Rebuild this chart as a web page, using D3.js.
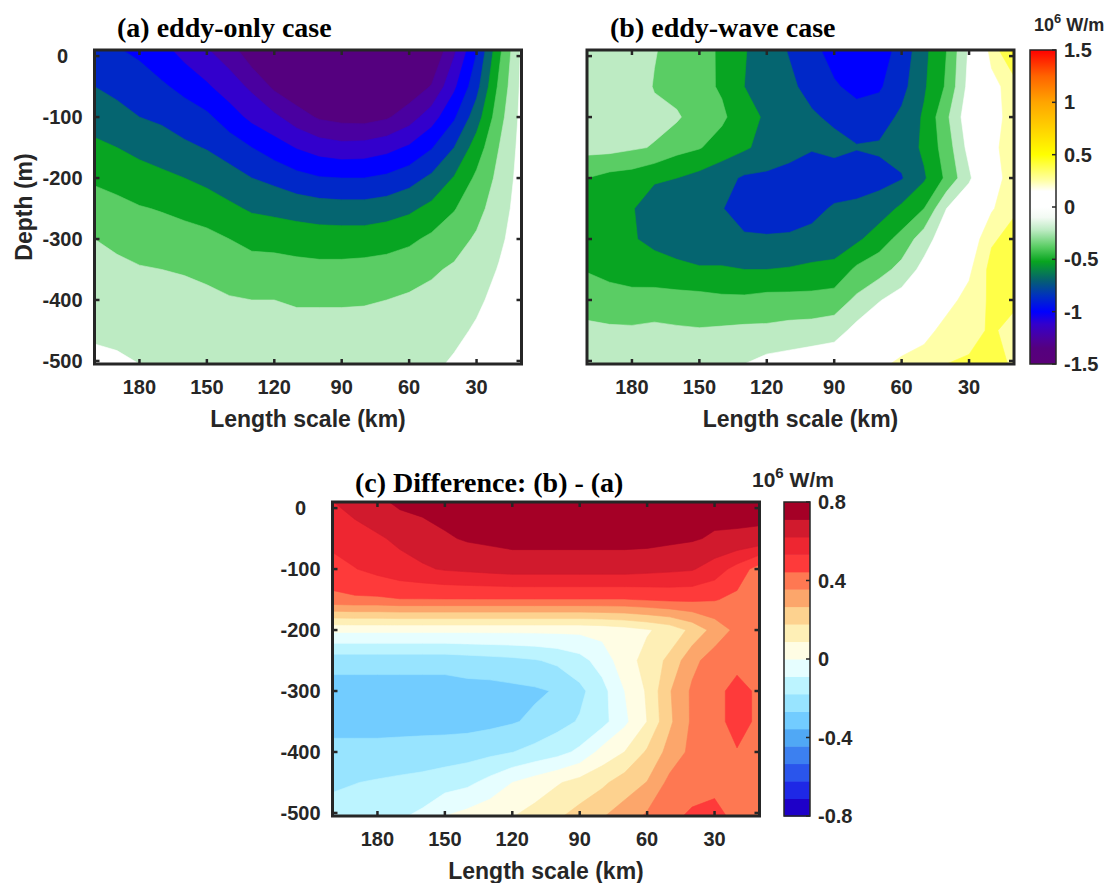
<!DOCTYPE html>
<html>
<head>
<meta charset="utf-8">
<script src="https://cdn.jsdelivr.net/npm/d3@7"></script>
<style>
  body { margin: 0; background: #fff; }
  svg text { font-family: "Liberation Sans", Arial, sans-serif; font-weight: bold; fill: #262626; }
  svg text.title { font-family: "Liberation Serif", "Times New Roman", serif; font-weight: bold; fill: #000; }
</style>
</head>
<body>
<svg id="fig" width="1107" height="883"></svg>
<script>
// Grid: length scale (km) along x, depth (m) along y
const lengthScale = [200, 190, 180, 170, 160, 150, 140, 130, 120, 110, 100, 90, 80, 70, 60, 50, 40, 30, 20, 10];
const depth = [10, -50, -100, -150, -200, -250, -300, -350, -400, -450, -505];

const xTicks = [180, 150, 120, 90, 60, 30];
const yTicks = [0, -100, -200, -300, -400, -500];

// Energy flux, 10^6 W/m, rows follow `depth`, columns follow `lengthScale`
const fluxEddyOnly = [
  [-0.85,-0.89,-0.93,-1.00,-1.11,-1.19,-1.28,-1.46,-1.52,-1.60,-1.62,-1.62,-1.60,-1.58,-1.55,-1.50,-1.23,-0.91,-0.49,-0.13],
  [-0.75,-0.79,-0.83,-0.88,-0.94,-1.03,-1.13,-1.23,-1.38,-1.47,-1.50,-1.50,-1.49,-1.47,-1.45,-1.34,-1.08,-0.80,-0.42,-0.12],
  [-0.66,-0.70,-0.75,-0.78,-0.83,-0.87,-0.98,-1.09,-1.17,-1.28,-1.37,-1.40,-1.41,-1.37,-1.27,-1.12,-0.92,-0.67,-0.36,-0.11],
  [-0.57,-0.60,-0.64,-0.67,-0.72,-0.76,-0.82,-0.90,-0.98,-1.06,-1.12,-1.15,-1.14,-1.10,-1.03,-0.91,-0.75,-0.53,-0.30,-0.10],
  [-0.47,-0.50,-0.54,-0.57,-0.60,-0.64,-0.69,-0.75,-0.79,-0.85,-0.89,-0.90,-0.90,-0.87,-0.81,-0.72,-0.59,-0.42,-0.26,-0.09],
  [-0.39,-0.41,-0.44,-0.46,-0.49,-0.52,-0.57,-0.62,-0.64,-0.66,-0.68,-0.69,-0.69,-0.67,-0.63,-0.56,-0.46,-0.35,-0.22,-0.08],
  [-0.30,-0.33,-0.36,-0.38,-0.39,-0.41,-0.45,-0.49,-0.50,-0.52,-0.53,-0.53,-0.53,-0.51,-0.48,-0.42,-0.36,-0.28,-0.18,-0.07],
  [-0.26,-0.27,-0.29,-0.30,-0.31,-0.33,-0.36,-0.39,-0.39,-0.40,-0.41,-0.41,-0.40,-0.39,-0.36,-0.32,-0.28,-0.23,-0.14,-0.06],
  [-0.21,-0.23,-0.24,-0.26,-0.26,-0.27,-0.29,-0.30,-0.30,-0.31,-0.31,-0.31,-0.31,-0.30,-0.28,-0.26,-0.23,-0.18,-0.10,-0.05],
  [-0.17,-0.18,-0.20,-0.22,-0.23,-0.23,-0.25,-0.26,-0.26,-0.27,-0.27,-0.27,-0.26,-0.25,-0.24,-0.22,-0.19,-0.13,-0.06,-0.03],
  [-0.12,-0.13,-0.15,-0.17,-0.18,-0.19,-0.20,-0.22,-0.22,-0.22,-0.22,-0.22,-0.21,-0.20,-0.19,-0.18,-0.13,-0.08,-0.03,-0.01]
];

const fluxEddyWave = [
  [-0.20,-0.20,-0.20,-0.29,-0.36,-0.38,-0.48,-0.59,-0.68,-0.76,-0.85,-0.97,-1.00,-0.97,-0.85,-0.64,-0.45,-0.13,0.20,0.50],
  [-0.20,-0.21,-0.21,-0.31,-0.36,-0.40,-0.47,-0.60,-0.70,-0.72,-0.80,-0.88,-0.95,-0.92,-0.80,-0.62,-0.43,-0.10,0.10,0.22],
  [-0.22,-0.22,-0.24,-0.26,-0.28,-0.38,-0.42,-0.55,-0.62,-0.68,-0.73,-0.78,-0.83,-0.82,-0.72,-0.58,-0.33,-0.05,0.10,0.20],
  [-0.25,-0.25,-0.28,-0.31,-0.40,-0.44,-0.52,-0.58,-0.65,-0.70,-0.74,-0.70,-0.74,-0.73,-0.70,-0.57,-0.38,-0.10,0.10,0.25],
  [-0.45,-0.50,-0.52,-0.58,-0.60,-0.65,-0.70,-0.77,-0.78,-0.80,-0.82,-0.85,-0.86,-0.80,-0.76,-0.62,-0.42,-0.18,0.10,0.20],
  [-0.56,-0.58,-0.59,-0.68,-0.70,-0.73,-0.74,-0.85,-0.86,-0.86,-0.80,-0.73,-0.70,-0.68,-0.57,-0.45,-0.15,0.00,0.13,0.28],
  [-0.56,-0.58,-0.59,-0.63,-0.70,-0.74,-0.74,-0.72,-0.73,-0.72,-0.70,-0.68,-0.63,-0.52,-0.40,-0.22,-0.05,0.03,0.28,0.35],
  [-0.46,-0.50,-0.52,-0.55,-0.55,-0.58,-0.58,-0.60,-0.60,-0.59,-0.57,-0.56,-0.42,-0.36,-0.25,-0.10,0.02,0.12,0.35,0.36],
  [-0.36,-0.38,-0.40,-0.38,-0.40,-0.40,-0.42,-0.42,-0.40,-0.40,-0.40,-0.38,-0.27,-0.16,-0.08,0.00,0.10,0.20,0.33,0.33],
  [-0.27,-0.28,-0.28,-0.27,-0.28,-0.29,-0.28,-0.27,-0.27,-0.25,-0.24,-0.22,-0.10,-0.02,0.05,0.10,0.20,0.25,0.32,0.25],
  [-0.22,-0.22,-0.22,-0.21,-0.22,-0.21,-0.20,-0.15,-0.10,-0.08,-0.05,-0.02,0.05,0.12,0.18,0.22,0.30,0.32,0.35,0.28]
];

const fluxDifference = [
  [0.62,0.66,0.69,0.73,0.74,0.75,0.76,0.77,0.77,0.77,0.77,0.77,0.77,0.77,0.77,0.77,0.76,0.75,0.74,0.75],
  [0.56,0.58,0.61,0.64,0.67,0.70,0.72,0.73,0.74,0.74,0.74,0.74,0.74,0.74,0.74,0.73,0.72,0.70,0.70,0.69],
  [0.50,0.53,0.56,0.59,0.61,0.63,0.64,0.65,0.66,0.66,0.66,0.66,0.66,0.66,0.65,0.64,0.63,0.58,0.50,0.40],
  [0.42,0.43,0.43,0.44,0.44,0.44,0.44,0.44,0.44,0.44,0.44,0.44,0.44,0.44,0.45,0.46,0.46,0.45,0.42,0.40],
  [0.02,0.02,0.02,0.02,0.02,0.02,0.02,0.02,0.02,0.02,0.02,0.02,0.03,0.05,0.08,0.12,0.20,0.30,0.38,0.42],
  [-0.23,-0.23,-0.23,-0.23,-0.23,-0.23,-0.22,-0.21,-0.20,-0.185,-0.16,-0.12,-0.05,0.05,0.12,0.20,0.33,0.40,0.42,0.42],
  [-0.31,-0.31,-0.31,-0.31,-0.31,-0.31,-0.30,-0.30,-0.29,-0.28,-0.26,-0.20,-0.12,0.00,0.10,0.26,0.37,0.42,0.47,0.43],
  [-0.30,-0.30,-0.30,-0.30,-0.30,-0.30,-0.30,-0.29,-0.275,-0.25,-0.21,-0.17,-0.12,-0.02,0.09,0.25,0.37,0.42,0.47,0.43],
  [-0.24,-0.24,-0.24,-0.235,-0.23,-0.225,-0.215,-0.20,-0.18,-0.15,-0.12,-0.07,0.03,0.09,0.19,0.30,0.38,0.41,0.44,0.42],
  [-0.19,-0.18,-0.17,-0.16,-0.15,-0.13,-0.11,-0.06,0.00,0.04,0.08,0.12,0.16,0.22,0.27,0.38,0.40,0.42,0.40,0.38],
  [-0.15,-0.14,-0.12,-0.10,-0.07,0.00,0.03,0.06,0.085,0.12,0.165,0.21,0.26,0.31,0.37,0.42,0.46,0.47,0.42,0.38]
];

// Filled-contour levels and band colours for panels (a) and (b)
const levelsAB = [-2, -1.35, -1.2, -1.05, -0.9, -0.75, -0.6, -0.45, -0.3, -0.15, 0.15, 0.3, 0.45, 0.6];
const colorsAB = ['#55007f', '#4a00a0', '#3300cc', '#0000ff', '#0028c8', '#056570', '#08a522', '#5acd64',
                  '#bdebc3', '#ffffff', '#ffffa8', '#ffff48', '#ffea10', '#ffd000'];
// Continuous colour bar for (a)/(b)
const colormapAB = [
  [-1.5, '#5a0078'], [-1.35, '#55007f'], [-1.25, '#4a00a0'], [-1.12, '#3300cc'], [-1.0, '#0000ff'],
  [-0.85, '#0030c0'], [-0.7, '#056070'], [-0.52, '#08a520'], [-0.38, '#5acd64'], [-0.22, '#bdebc3'],
  [-0.1, '#f2faf3'], [0, '#ffffff'], [0.15, '#ffffff'], [0.25, '#ffffa8'], [0.5, '#ffff00'],
  [0.75, '#ffd200'], [1.0, '#ffa500'], [1.25, '#ff6400'], [1.5, '#ff0000']
];
const cbTicksAB = [1.5, 1, 0.5, 0, -0.5, -1, -1.5];

// Filled-contour levels and colours for panel (c)
const levelsC = [-0.8, -0.711, -0.622, -0.533, -0.444, -0.356, -0.267, -0.178, -0.089,
                 0, 0.089, 0.178, 0.267, 0.356, 0.444, 0.533, 0.622, 0.711];
const colorsC = ['#1e00c8', '#1e28e6', '#2a55ec', '#3c80f0', '#50a8f5', '#72ccff', '#98e4ff', '#bcf4ff', '#e6feff',
                 '#fffde4', '#feefb6', '#fdd28f', '#fca66b', '#fe7852', '#fe3a3a', '#ee2631', '#d11a2d', '#a50026'];
const cbTicksC = [0.8, 0.4, 0, -0.4, -0.8];

const svg = d3.select('#fig');
const ink = '#262626';

// map a d3.contours grid coordinate back to data units (grid value i sits at i + 0.5)
function gridToData(coords) {
  const n = coords.length;
  return c => {
    const t = c - 0.5;
    if (t <= 0) return coords[0];
    if (t >= n - 1) return coords[n - 1];
    const i = Math.floor(t), f = t - i;
    return coords[i] + (coords[i + 1] - coords[i]) * f;
  };
}

function drawPanel(cfg) {
  const x = d3.scaleLinear().domain([lengthScale[0], lengthScale[lengthScale.length - 1]]).range([cfg.left, cfg.right]);
  const y = d3.scaleLinear().domain([depth[0], depth[depth.length - 1]]).range([cfg.top, cfg.bottom]);
  const gx = gridToData(lengthScale), gy = gridToData(depth);
  const proj = d3.geoTransform({ point(px, py) { this.stream.point(x(gx(px)), y(gy(py))); } });
  const path = d3.geoPath(proj);

  const g = svg.append('g');
  const clipId = 'clip-' + cfg.id;
  g.append('clipPath').attr('id', clipId).append('rect')
    .attr('x', cfg.left).attr('y', cfg.top)
    .attr('width', cfg.right - cfg.left).attr('height', cfg.bottom - cfg.top);

  const bands = d3.contours()
    .size([lengthScale.length, depth.length])
    .thresholds(cfg.levels)(cfg.values.flat());

  g.append('g').attr('clip-path', `url(#${clipId})`)
    .selectAll('path').data(bands).join('path')
    .attr('d', path)
    .attr('fill', (d, i) => cfg.colors[i])
    .attr('stroke', (d, i) => cfg.colors[i])
    .attr('stroke-width', 0.6);

  // inward ticks on all four sides
  const tl = 5;
  const ticks = g.append('g').attr('stroke', ink).attr('stroke-width', 2.5);
  xTicks.forEach(v => {
    ticks.append('line').attr('x1', x(v)).attr('x2', x(v)).attr('y1', cfg.bottom).attr('y2', cfg.bottom - tl);
    ticks.append('line').attr('x1', x(v)).attr('x2', x(v)).attr('y1', cfg.top).attr('y2', cfg.top + tl);
  });
  yTicks.forEach(v => {
    ticks.append('line').attr('x1', cfg.left).attr('x2', cfg.left + tl).attr('y1', y(v)).attr('y2', y(v));
    ticks.append('line').attr('x1', cfg.right).attr('x2', cfg.right - tl).attr('y1', y(v)).attr('y2', y(v));
  });

  g.append('rect')
    .attr('x', cfg.left).attr('y', cfg.top)
    .attr('width', cfg.right - cfg.left).attr('height', cfg.bottom - cfg.top)
    .attr('fill', 'none').attr('stroke', ink).attr('stroke-width', 3);

  // tick labels
  xTicks.forEach(v => {
    g.append('text').attr('x', x(v)).attr('y', cfg.bottom + 30)
      .attr('text-anchor', 'middle').style('font-size', '20px').text(String(v));
  });
  if (cfg.yLabels) {
    yTicks.forEach(v => {
      g.append('text').attr('x', cfg.left - 32).attr('y', y(v) + 7)
        .attr('text-anchor', 'middle').style('font-size', '20px').text(String(v));
    });
  }
  g.append('text').attr('x', (cfg.left + cfg.right) / 2).attr('y', cfg.bottom + 63)
    .attr('text-anchor', 'middle').style('font-size', '23px').text('Length scale (km)');
  if (cfg.yTitle) {
    g.append('text')
      .attr('transform', `translate(${cfg.left - 63},${(cfg.top + cfg.bottom) / 2}) rotate(-90)`)
      .attr('text-anchor', 'middle').style('font-size', '23px').text(cfg.yTitle);
  }
  g.append('text').attr('class', 'title').attr('x', cfg.titleX).attr('y', cfg.titleY)
    .style('font-size', '28px').text(cfg.title);
}

function unitLabel(x, y, size) {
  const t = svg.append('text').attr('x', x).attr('y', y).style('font-size', size + 'px');
  t.append('tspan').text('10');
  t.append('tspan').attr('dy', -size * 0.42).style('font-size', (size * 0.72) + 'px').text('6');
  t.append('tspan').attr('dy', size * 0.42).text(' W/m');
}

function colorbarTicks(scale, cb, ticks) {
  const g = svg.append('g');
  ticks.forEach(v => {
    g.append('line').attr('x1', cb.right).attr('x2', cb.right - 4)
      .attr('y1', scale(v)).attr('y2', scale(v)).attr('stroke', ink).attr('stroke-width', 1.5);
    g.append('text').attr('x', cb.right + 8).attr('y', scale(v) + 7)
      .style('font-size', '20px').text(String(v));
  });
  g.append('rect').attr('x', cb.left).attr('y', cb.top)
    .attr('width', cb.right - cb.left).attr('height', cb.bottom - cb.top)
    .attr('fill', 'none').attr('stroke', ink).attr('stroke-width', 1.5);
}

// panels
drawPanel({ id: 'a', left: 94.5, right: 521.5, top: 50, bottom: 364, values: fluxEddyOnly,
  levels: levelsAB, colors: colorsAB, yLabels: true, yTitle: 'Depth (m)',
  title: '(a) eddy-only case', titleX: 117, titleY: 37 });
drawPanel({ id: 'b', left: 587, right: 1014, top: 50, bottom: 364, values: fluxEddyWave,
  levels: levelsAB, colors: colorsAB, yLabels: false,
  title: '(b) eddy-wave case', titleX: 610, titleY: 37 });
drawPanel({ id: 'c', left: 332.5, right: 759.5, top: 502, bottom: 816, values: fluxDifference,
  levels: levelsC, colors: colorsC, yLabels: true,
  title: '(c) Difference: (b) - (a)', titleX: 355, titleY: 492 });

// continuous colour bar for (a)/(b)
const cbAB = { left: 1030, right: 1056, top: 50, bottom: 364 };
const cbScaleAB = d3.scaleLinear().domain([-1.5, 1.5]).range([cbAB.bottom, cbAB.top]);
const grad = svg.append('defs').append('linearGradient').attr('id', 'cmapAB')
  .attr('x1', 0).attr('x2', 0).attr('y1', 1).attr('y2', 0);
colormapAB.forEach(([v, c]) => {
  grad.append('stop').attr('offset', ((v + 1.5) / 3 * 100) + '%').attr('stop-color', c);
});
svg.append('rect').attr('x', cbAB.left).attr('y', cbAB.top)
  .attr('width', cbAB.right - cbAB.left).attr('height', cbAB.bottom - cbAB.top)
  .attr('fill', 'url(#cmapAB)');
colorbarTicks(cbScaleAB, cbAB, cbTicksAB);
unitLabel(1034, 31, 18);

// stepped colour bar for (c)
const cbC = { left: 784, right: 810, top: 502, bottom: 816 };
const cbScaleC = d3.scaleLinear().domain([-0.8, 0.8]).range([cbC.bottom, cbC.top]);
const cbBands = levelsC.map((lo, i) => ({ lo, hi: i < levelsC.length - 1 ? levelsC[i + 1] : 0.8, color: colorsC[i] }));
svg.append('g').selectAll('rect').data(cbBands).join('rect')
  .attr('x', cbC.left).attr('width', cbC.right - cbC.left)
  .attr('y', d => cbScaleC(d.hi)).attr('height', d => cbScaleC(d.lo) - cbScaleC(d.hi) + 0.5)
  .attr('fill', d => d.color);
colorbarTicks(cbScaleC, cbC, cbTicksC);
unitLabel(752, 487, 21);
</script>
</body>
</html>
